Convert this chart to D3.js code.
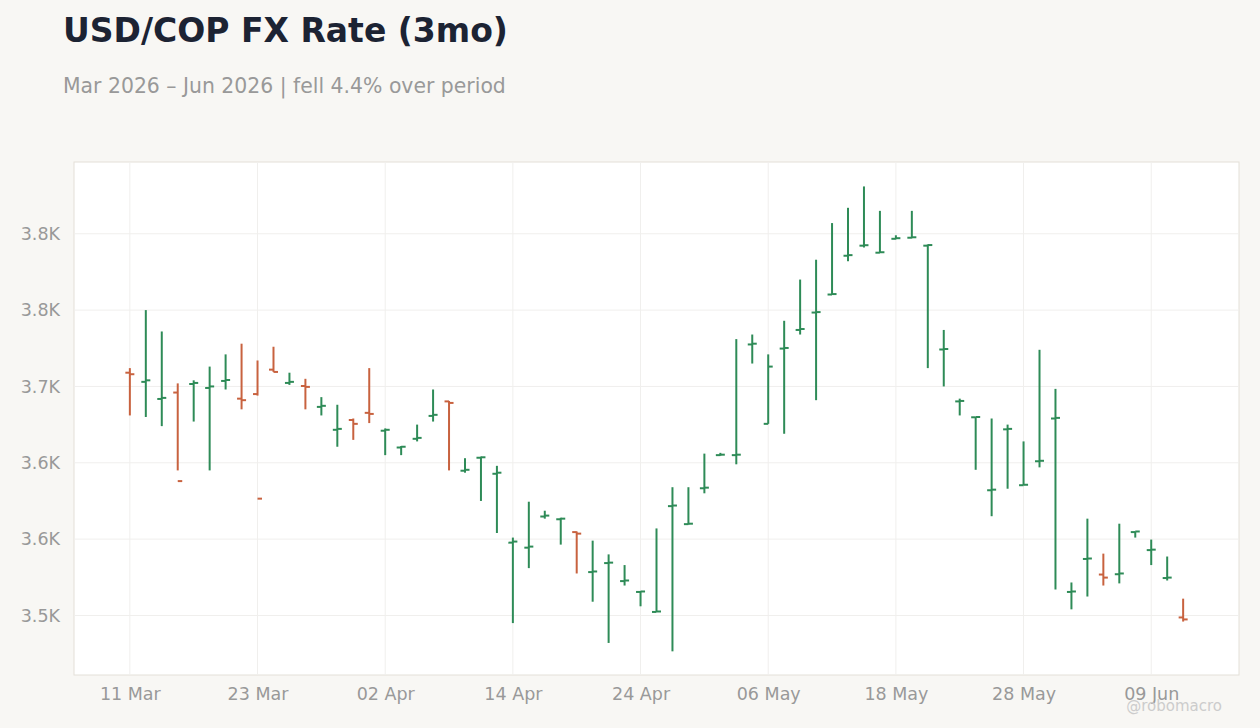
<!DOCTYPE html>
<html>
<head>
<meta charset="utf-8">
<script src="https://cdn.jsdelivr.net/npm/d3@7"></script>
<style>
  body { margin: 0; background: #f8f7f4; font-family: "DejaVu Sans", sans-serif; }
</style>
</head>
<body>
<svg width="1260" height="728"></svg>
<script>
// ohlc, one bar per weekday from 11 Mar
var opens  = [3659,3653,3641.8,3646,3651.6,3649,3653.6,3642,3645,3661,3652.3,3650.3,3636.6,3621.6,3628,3632.7,3621,3610,3615.7,3630.7,
              3640.2,3594.8,3603.3,3592.8,3547.7,3544.4,3564.8,3563,3554.6,3528.4,3534.3,3522.5,3515.4,3502.3,3571.6,3559.8,3583.3,3605,3605,3677.5,
              3625.5,3674.8,3687,3698.4,3710.2,3735.6,3742.2,3737.6,3746.7,3747.4,3742.2,3674.2,3640.2,3629.8,3582,3621.9,3585.3,3601,3629,3515.4,
              3537,3526.8,3527,3554.6,3542.8,3524.5,3498.7];
var highs  = [3662,3700,3686,3652,3654,3663,3671,3678,3667,3676,3659,3655,3643,3638,3629,3662,3622.5,3611,3625,3648,
              3640.5,3603,3604,3598,3551,3574.5,3568.6,3564,3555,3549,3540,3533,3516,3557,3584,3584,3606,3606.5,3681,3684,
              3671,3693,3720,3733,3757,3767,3781,3765,3749,3765,3743,3687,3642,3630,3629,3625,3614,3674,3648.4,3521.6,
              3563.4,3540.5,3560.1,3555,3549.7,3538.6,3511];
var lows   = [3631,3630,3624,3595,3627,3595,3648,3635,3644,3659.5,3651,3635,3631,3610.5,3615,3626,3605,3605,3614,3627,
              3595,3593.5,3575,3554,3495,3531,3563.4,3546.4,3527.5,3509,3482,3519.6,3506,3502.3,3476.5,3559.5,3580,3604.6,3599,3665,
              3625.5,3619,3684,3641,3710.2,3732,3741,3737.6,3746.4,3747.1,3662,3650,3631,3595.4,3565,3583,3585.3,3597,3517,3504,
              3512.4,3519.6,3521,3551,3533,3522.9,3496];
var closes = [3658,3654,3642.5,3588,3652.3,3650,3654.2,3641,3576.5,3659.5,3653,3649.7,3637.3,3622.2,3625.5,3632,3621.6,3610.5,3616.3,3631.4,
              3639.2,3595.4,3603.6,3593.5,3548.4,3545.1,3565.4,3563.4,3553.6,3528.8,3534.6,3522.9,3515.7,3502.6,3572,3560.1,3583.7,3605.3,3605.3,3678,
              3663,3675.2,3687.6,3698.7,3710.5,3736,3742.5,3737.9,3747.1,3747.7,3742.6,3674.5,3640.5,3630,3582.4,3622.2,3585.6,3601.3,3629.4,3515.7,
              3537.3,3524.8,3527.5,3555,3543.1,3524.8,3497.4];

var yTicks = [3500, 3550, 3600, 3650, 3700, 3750];
var yTickLabels = ["3.5K", "3.6K", "3.6K", "3.7K", "3.8K", "3.8K"];

// weekdays starting 11 Mar 2026
var dates = d3.timeDay.range(new Date(2026, 2, 11), new Date(2026, 5, 20))
    .filter(function(d) { return d.getDay() !== 0 && d.getDay() !== 6; })
    .slice(0, opens.length);

var data = dates.map(function(d, i) {
    return {date: d, i: i, o: opens[i], h: highs[i], l: lows[i], c: closes[i]};
});

var svg = d3.select("svg");
var plotL = 74, plotR = 1239, plotT = 162, plotB = 675;

svg.append("text").attr("x", 63).attr("y", 42)
    .attr("font-size", 33).attr("font-weight", "bold").attr("fill", "#1c2333")
    .text("USD/COP FX Rate (3mo)");
svg.append("text").attr("x", 63).attr("y", 93)
    .attr("font-size", 20.4).attr("fill", "#999")
    .text("Mar 2026 \u2013 Jun 2026 | fell 4.4% over period");

svg.append("rect").attr("x", plotL).attr("y", plotT)
    .attr("width", plotR - plotL).attr("height", plotB - plotT)
    .attr("fill", "#fff").attr("stroke", "#e3e0d8");

var x = d3.scaleLinear().domain([-3.5, data.length - 1 + 3.5]).range([plotL, plotR]);
var y = d3.scaleLinear().domain([3461, 3797]).range([plotB, plotT]);

var xTickIdx = d3.range(0, data.length, 8);
var fmt = d3.timeFormat("%d %b");

var g = svg.append("g");
g.selectAll(".hg").data(yTicks).enter().append("line")
    .attr("x1", plotL).attr("x2", plotR)
    .attr("y1", function(d) { return y(d); }).attr("y2", function(d) { return y(d); })
    .attr("stroke", "#f0efed");
g.selectAll(".vg").data(xTickIdx).enter().append("line")
    .attr("y1", plotT).attr("y2", plotB)
    .attr("x1", function(d) { return x(d); }).attr("x2", function(d) { return x(d); })
    .attr("stroke", "#f0efed");

var yAxis = svg.append("g").attr("transform", "translate(" + plotL + ",0)")
    .call(d3.axisLeft(y).tickValues(yTicks).tickSize(0).tickPadding(14)
        .tickFormat(function(d, i) { return yTickLabels[i]; }));
var xAxis = svg.append("g").attr("transform", "translate(0," + plotB + ")")
    .call(d3.axisBottom(x).tickValues(xTickIdx).tickSize(0).tickPadding(13)
        .tickFormat(function(d) { return fmt(dates[d]); }));
[yAxis, xAxis].forEach(function(a) {
    a.select(".domain").remove();
    a.selectAll("text").attr("fill", "#999").attr("font-size", 17.5).attr("font-family", "DejaVu Sans, sans-serif");
});

var bars = svg.append("g").selectAll("g").data(data).enter().append("g")
    .attr("stroke", function(d) { return d.c >= d.o ? "#2e8b57" : "#c8623f"; })
    .attr("stroke-width", 2);
bars.append("line")
    .attr("x1", function(d) { return x(d.i); }).attr("x2", function(d) { return x(d.i); })
    .attr("y1", function(d) { return y(d.h); }).attr("y2", function(d) { return y(d.l); });
bars.append("line")
    .attr("x1", function(d) { return x(d.i) - 4.5; }).attr("x2", function(d) { return x(d.i); })
    .attr("y1", function(d) { return y(d.o); }).attr("y2", function(d) { return y(d.o); });
bars.append("line")
    .attr("x1", function(d) { return x(d.i); }).attr("x2", function(d) { return x(d.i) + 4.5; })
    .attr("y1", function(d) { return y(d.c); }).attr("y2", function(d) { return y(d.c); });

svg.append("text").attr("x", 1222).attr("y", 711).attr("text-anchor", "end")
    .attr("font-size", 15).attr("fill", "#ccc").text("@robomacro");
</script>
</body>
</html>
